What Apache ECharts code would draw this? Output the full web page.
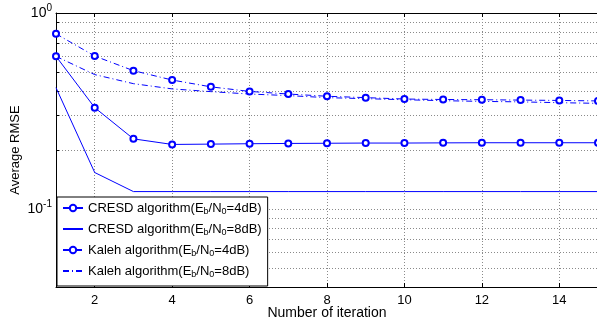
<!DOCTYPE html>
<html><head><meta charset="utf-8">
<script src="https://cdn.jsdelivr.net/npm/echarts@6/dist/echarts.min.js"></script>
<style>html,body{margin:0;padding:0;background:#fff}#c{width:597px;height:324px}</style>
</head><body><div id="c"></div>
<script>
const iterations = [1,2,3,4,5,6,7,8,9,10,11,12,13,14,15];
const cresd4 = [0.601,0.329,0.228,0.2135,0.2143,0.2153,0.216,0.2165,0.217,0.217,0.2175,0.2178,0.2178,0.2178,0.2178];
const cresd8 = [0.416,0.1535,0.1227,0.1227,0.1227,0.1227,0.1227,0.1227,0.1227,0.1227,0.1227,0.1227,0.1227,0.1227,0.1227];
const kaleh4 = [0.783,0.603,0.508,0.455,0.42,0.398,0.386,0.376,0.370,0.364,0.362,0.361,0.3595,0.358,0.356];
const kaleh8 = [0.601,0.485,0.436,0.410,0.397,0.386,0.379,0.370,0.3655,0.361,0.357,0.354,0.352,0.3487,0.346];
const seriesNames = ['CRESD algorithm(Eb/N0=4dB)','CRESD algorithm(Eb/N0=8dB)','Kaleh algorithm(Eb/N0=4dB)','Kaleh algorithm(Eb/N0=8dB)'];
const legendLabels = ['CRESD algorithm(E{sub|b}/N{sub|0}=4dB)','CRESD algorithm(E{sub|b}/N{sub|0}=8dB)','Kaleh algorithm(E{sub|b}/N{sub|0}=4dB)','Kaleh algorithm(E{sub|b}/N{sub|0}=8dB)'];
const xTicks = [2,4,6,8,10,12,14];
const yLabelTicks = [0.1, 1];
const yGridTicks = [0.05,0.06,0.07,0.08,0.09,0.1,0.2,0.3,0.4,0.5,0.6,0.7,0.8,0.9,1];

const BLUE = '#0000ff';
const FONT = 'Liberation Sans';
const pairs = arr => iterations.map((x, i) => [x, arr[i]]);
const gridStyle = {color: '#8a8a8a', width: 1, type: [1, 2]};
const dashDot = [6, 3, 1, 3];

const chart = echarts.init(document.getElementById('c'), null, {renderer: 'canvas'});
chart.setOption({
  animation: false,
  backgroundColor: '#fff',
  textStyle: {fontFamily: FONT},
  grid: {left: 56, top: 13, right: -1, bottom: 37, containLabel: false, outerBoundsMode: 'none'},
  xAxis: [{
    type: 'value', min: 1, max: 15,
    name: 'Number of iteration', nameLocation: 'middle', nameGap: 19, nameMoveOverlap: false,
    nameTextStyle: {fontFamily: FONT, fontSize: 14, color: '#000'},
    axisLine: {lineStyle: {color: '#000', width: 1}},
    axisTick: {inside: true, length: 4, customValues: xTicks, lineStyle: {color: '#000'}},
    axisLabel: {customValues: xTicks, margin: 7, fontFamily: FONT, fontSize: 13, color: '#000'},
    splitLine: {show: true, lineStyle: gridStyle}
  }, {
    type: 'value', min: 1, max: 15, position: 'top',
    axisLine: {show: true, lineStyle: {color: '#000', width: 1}},
    axisTick: {inside: true, length: 4, customValues: xTicks, lineStyle: {color: '#000'}},
    axisLabel: {show: false},
    splitLine: {show: false}
  }],
  yAxis: [{
    type: 'log', logBase: 10, min: 0.04, max: 1,
    name: 'Average RMSE', nameLocation: 'middle', nameGap: 34, nameRotate: 90, nameMoveOverlap: false,
    nameTextStyle: {fontFamily: FONT, fontSize: 13, color: '#000'},
    axisLine: {show: true, lineStyle: {color: '#000', width: 1}},
    axisTick: {inside: true, length: 3, customValues: yGridTicks, lineStyle: {color: '#000'}},
    axisLabel: {
      customValues: yLabelTicks, margin: 4, color: '#000', verticalAlign: 'middle',
      formatter: v => '{b|10}{sup|' + Math.round(Math.log10(v)) + '}',
      rich: {
        b: {fontSize: 14, lineHeight: 20, verticalAlign: 'middle', fontFamily: FONT, color: '#000'},
        sup: {fontSize: 10, lineHeight: 10, verticalAlign: 'top', fontFamily: FONT, color: '#000'}
      }
    },
    splitLine: {show: true, lineStyle: gridStyle}
  }],
  legend: {
    orient: 'vertical', left: 57, top: 197,
    padding: [3, 6, 7, 5], itemGap: 5, itemWidth: 20, itemHeight: 8,
    backgroundColor: '#fff', borderColor: '#000', borderWidth: 1,
    data: seriesNames,
    formatter: name => legendLabels[seriesNames.indexOf(name)],
    textStyle: {fontFamily: FONT, fontSize: 13, color: '#000', lineHeight: 16,
      rich: {sub: {fontSize: 9, lineHeight: 9, verticalAlign: 'bottom', fontFamily: FONT, color: '#000'}}}
  },
  series: [
    {name: seriesNames[0], type: 'line', data: pairs(cresd4), symbol: 'emptyCircle', symbolSize: 6,
     lineStyle: {color: BLUE, width: 1, type: 'solid'}, itemStyle: {color: BLUE, borderWidth: 1.2}},
    {name: seriesNames[1], type: 'line', data: pairs(cresd8), symbol: 'none',
     lineStyle: {color: BLUE, width: 1, type: 'solid'}, itemStyle: {color: 'rgba(0,0,0,0)', borderWidth: 0}},
    {name: seriesNames[2], type: 'line', data: pairs(kaleh4), symbol: 'emptyCircle', symbolSize: 6,
     lineStyle: {color: BLUE, width: 1, type: dashDot}, itemStyle: {color: BLUE, borderWidth: 1.2}},
    {name: seriesNames[3], type: 'line', data: pairs(kaleh8), symbol: 'none',
     lineStyle: {color: BLUE, width: 1, type: dashDot}, itemStyle: {color: 'rgba(0,0,0,0)', borderWidth: 0}}
  ]
});
</script></body></html>
